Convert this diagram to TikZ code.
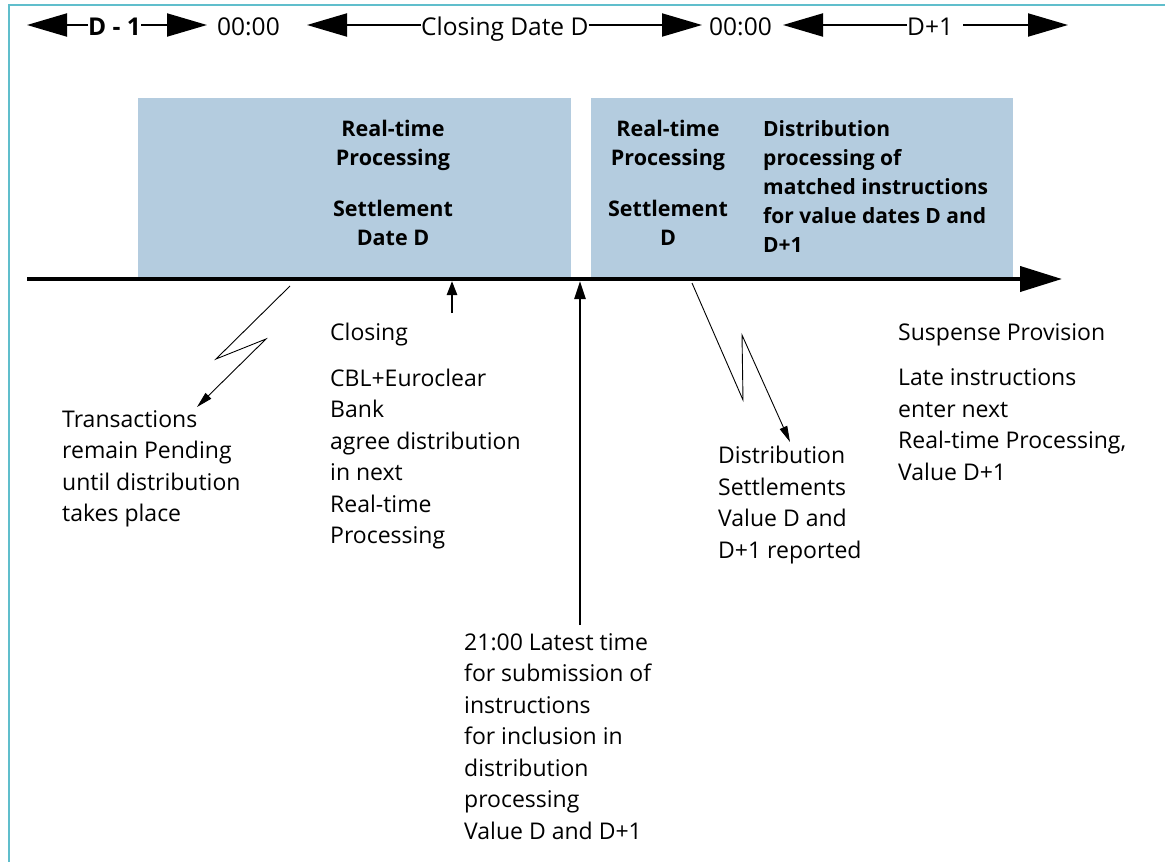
\documentclass[tikz,border=0pt]{standalone}
\usepackage{fontspec}
\setmainfont{Open Sans}
\usepackage{tikz}
\usetikzlibrary{arrows.meta}
\definecolor{framecyan}{RGB}{96,190,204}
\definecolor{slotblue}{RGB}{180,204,223}

\begin{document}
\begin{tikzpicture}[x=1pt, y=-1pt,
    slotbox/.style={rectangle, anchor=north west, inner sep=0pt,
        fill=slotblue, draw=none},
    slottext/.style={font=\fontsize{21.5}{29}\selectfont\bfseries,
        inner sep=0pt, anchor=north, align=center},
    slotlist/.style={font=\fontsize{21}{29}\selectfont\bfseries,
        inner sep=0pt, anchor=north west, align=left},
    daylabel/.style={font=\fontsize{24.5}{28}\selectfont,
        inner sep=0pt, anchor=base west},
    note/.style={font=\fontsize{23}{31.5}\selectfont,
        inner sep=0pt, anchor=north west, align=left},
    dayarrow/.style={-{Triangle[length=40pt, width=23pt]}, line width=2pt},
    timeline/.style={-{Triangle[length=42pt, width=25pt]}, line width=4pt},
    markarrow/.style={-{Triangle[length=18pt, width=11pt]}, line width=2.5pt},
    zigarrow/.style={-{Triangle[length=16pt, width=8pt]}, line width=0.9pt},
]
\useasboundingbox (0,0) rectangle (1165,862);

% ── FRAME ───────────────────────────────────────────────────────────────────
\draw[framecyan, line width=1.5pt] (9,862) -- (9,5) -- (1165,5);

% ── DAY LABELS (baseline at y=35, shafts at y=25) ───────────────────────────
\node[daylabel, font=\fontsize{24.5}{28}\selectfont\bfseries] (dm1) at (88,35) {D - 1};
\node[daylabel] (mid1) at (217,35) {00:00};
\node[daylabel] (cld)  at (421,35) {Closing Date D};
\node[daylabel] (mid2) at (709,35) {00:00};
\node[daylabel] (dp1)  at (907,35) {D+1};

\coordinate (dm1L) at (27,25);
\coordinate (dm1R) at (207,25);
\coordinate (cldL) at (307,25);
\coordinate (cldR) at (702,25);
\coordinate (dp1L) at (783,25);
\coordinate (dp1R) at (1068,25);

\draw[dayarrow] ([yshift=10pt]dm1.base west) -- (dm1L);
\draw[dayarrow] ([yshift=10pt]dm1.base east) -- (dm1R);
\draw[dayarrow] ([yshift=10pt]cld.base west) -- (cldL);
\draw[dayarrow] ([yshift=10pt]cld.base east) -- (cldR);
\draw[dayarrow] ([yshift=10pt]dp1.base west) -- (dp1L);
\draw[dayarrow] ([xshift=10pt, yshift=10pt]dp1.base east) -- (dp1R);

% ── PROCESSING SLOTS ────────────────────────────────────────────────────────
\node[slotbox, minimum width=433pt, minimum height=181pt] (rt1) at (138,98) {};
\node[slotbox, minimum width=422pt, minimum height=181pt] (rt2) at (591,98) {};

\node[slottext] (rt1a) at (393,120)
    {Real-time\\Processing\\[22pt]Settlement\\Date D};
\node[slottext] (rt2a) at (668,120)
    {Real-time\\Processing\\[22pt]Settlement\\D};
\node[slotlist] (rt2b) at (763,120)
    {Distribution\\processing of\\matched instructions\\for value dates D and\\D+1};

% ── TIME LINE ───────────────────────────────────────────────────────────────
\coordinate (axL) at (27,279);
\coordinate (axR) at (1062,279);
\draw[timeline] (axL) -- (axR);

% ── NOTES BELOW THE LINE ────────────────────────────────────────────────────
\node[note] (txn) at (62,410)
    {Transactions\\remain Pending\\until distribution\\takes place};
\node[note] (clo) at (330,323)
    {Closing\\[14pt]CBL+Euroclear\\Bank\\agree distribution\\in next\\Real-time\\Processing};
\node[note] (sub) at (464,633)
    {21:00 Latest time\\for submission of\\instructions\\for inclusion in\\distribution\\processing\\Value D and D+1};
\node[note] (dst) at (718,446)
    {Distribution\\Settlements\\Value D and\\D+1 reported};
\node[note] (sus) at (898,323)
    {Suspense Provision\\[14pt]Late instructions\\enter next\\Real-time Processing,\\Value D+1};

% ── MARKERS ─────────────────────────────────────────────────────────────────
\coordinate (clA) at (452,313);
\coordinate (clB) at (452,281);
\draw[markarrow, -{Triangle[length=14pt, width=10pt]}] (clA) -- (clB);

\coordinate (gap) at (580,281);
\draw[markarrow, shorten <=8pt] (sub.north -| gap) -- (gap);

% zig-zag arrows
\coordinate (z1a) at (290,286);
\coordinate (z1b) at (216,359);
\coordinate (z1c) at (266,339);
\coordinate (z1d) at (197,407);
\draw[zigarrow] (z1a) -- (z1b) -- (z1c) -- (z1d);

\coordinate (z2a) at (692,283);
\coordinate (z2b) at (743,400);
\coordinate (z2c) at (742,335);
\coordinate (z2d) at (790,442);
\draw[zigarrow] (z2a) -- (z2b) -- (z2c) -- (z2d);

\end{tikzpicture}
\end{document}
